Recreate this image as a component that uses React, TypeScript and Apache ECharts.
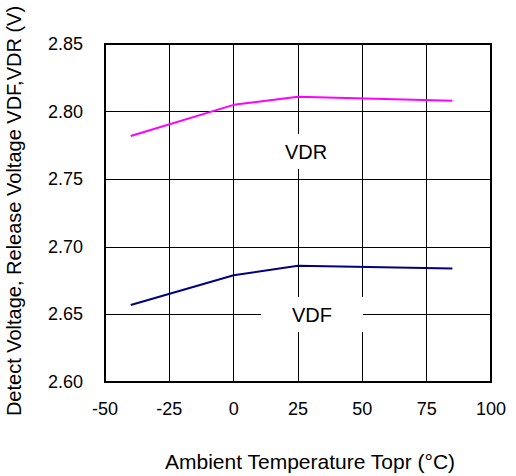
import React, { useEffect, useRef } from "react";
import * as echarts from "echarts";

const temps = [-40, 0, 25, 85];
const vdr = [2.782, 2.805, 2.811, 2.808];
const vdf = [2.657, 2.679, 2.686, 2.684];
const xTicks = [-50, -25, 0, 25, 50, 75, 100];
const yTicks = [2.6, 2.65, 2.7, 2.75, 2.8, 2.85];

const FONT = "'Liberation Sans', Arial, sans-serif";

export default function App() {
  const ref = useRef<HTMLDivElement>(null);
  useEffect(() => {
    if (!ref.current) return;
    const chart = echarts.init(ref.current, null, { renderer: "svg" });
    const labelBox = (name: string, cx: number, cy: number) => ({
      type: "group",
      x: cx,
      y: cy,
      children: [
        { type: "rect", shape: { x: -51, y: -18, width: 102, height: 35 }, style: { fill: "#fff" }, z: 10 },
        {
          type: "text",
          x: 0,
          y: 0,
          z: 11,
          style: { text: name, font: `20px ${FONT}`, fill: "#000", align: "center", verticalAlign: "middle" },
        },
      ],
    });
    chart.setOption({
      animation: false,
      backgroundColor: "#fff",
      grid: { left: 105, right: 25, top: 44, bottom: 94, show: true, borderColor: "#000", borderWidth: 2, backgroundColor: "transparent" },
      xAxis: {
        type: "value",
        min: xTicks[0],
        max: xTicks[xTicks.length - 1],
        interval: 25,
        axisLine: { show: false },
        axisTick: { show: false },
        splitLine: { show: true, lineStyle: { color: "#000", width: 1 } },
        axisLabel: { color: "#000", fontSize: 18, fontFamily: FONT, margin: 18 },
      },
      yAxis: {
        type: "value",
        min: yTicks[0],
        max: yTicks[yTicks.length - 1],
        interval: 0.05,
        axisLine: { show: false },
        axisTick: { show: false },
        splitLine: { show: true, lineStyle: { color: "#000", width: 1 } },
        axisLabel: { color: "#000", fontSize: 18, fontFamily: FONT, margin: 22, formatter: (v: number) => v.toFixed(2) },
      },
      series: [
        {
          type: "line",
          data: temps.map((t, i) => [t, vdr[i]]),
          showSymbol: false,
          lineStyle: { color: "#ff00ff", width: 2 },
          z: 5,
        },
        {
          type: "line",
          data: temps.map((t, i) => [t, vdf[i]]),
          showSymbol: false,
          lineStyle: { color: "#000080", width: 2 },
          z: 5,
        },
      ],
      graphic: [
        labelBox("VDR", 306, 152),
        labelBox("VDF", 312, 315),
        {
          type: "text",
          x: 310,
          y: 461,
          style: { text: "Ambient Temperature Topr (\u00b0C)", font: `21px ${FONT}`, fill: "#000", align: "center", verticalAlign: "middle" },
        },
        {
          type: "text",
          x: 14,
          y: 211,
          rotation: Math.PI / 2,
          style: { text: "Detect Voltage, Release Voltage VDF,VDR (V)", font: `20px ${FONT}`, fill: "#000", align: "center", verticalAlign: "middle" },
        },
      ],
    });
    return () => chart.dispose();
  }, []);
  return <div ref={ref} style={{ position: "fixed", left: 0, top: 0, width: 516, height: 476 }} />;
}
